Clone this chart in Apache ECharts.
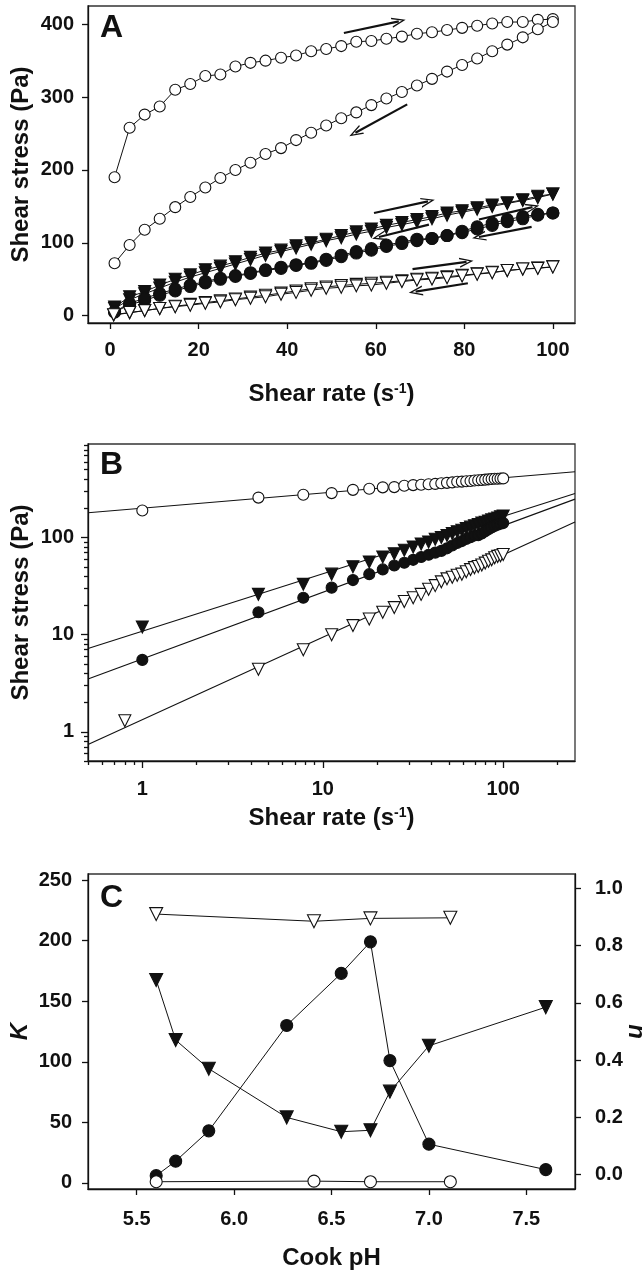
<!DOCTYPE html>
<html>
<head>
<meta charset="utf-8">
<script src="https://cdn.jsdelivr.net/npm/echarts@6/dist/echarts.min.js"></script>
<style>
html,body{margin:0;padding:0;background:#fff;}
#chart{width:644px;height:1273px;}
</style>
</head>
<body>
<div id="chart"></div>
<script>
// ---------- Panel A / B data (shear rate sweep) ----------
const shearRate = [1, 4.4, 7.8, 11.2, 14.7, 18.1, 21.5, 24.9, 28.3, 31.7, 35.1, 38.6, 42.0, 45.4, 48.8, 52.2, 55.6, 59.0, 62.4, 65.9, 69.3, 72.7, 76.1, 79.5, 82.9, 86.3, 89.7, 93.2, 96.6, 100];
const shearRateOT = [0.8, 4.4, 7.8, 11.2, 14.7, 18.1, 21.5, 24.9, 28.3, 31.7, 35.1, 38.6, 42.0, 45.4, 48.8, 52.2, 55.6, 59.0, 62.4, 65.9, 69.3, 72.7, 76.1, 79.5, 82.9, 86.3, 89.7, 93.2, 96.6, 100];

const openCircleUp   = [190, 258, 276, 287, 310, 318, 329, 331, 342, 347, 350, 354, 357, 363, 366, 370, 376, 377, 380, 383, 387, 389, 392, 395, 398, 401, 403, 403, 406, 407];
const openCircleDown = [72, 97, 118, 133, 149, 163, 176, 189, 200, 210, 222, 230, 241, 251, 261, 271, 279, 289, 298, 307, 316, 325, 335, 344, 353, 363, 372, 382, 393, 403];
const filledTriUp    = [12, 26, 33, 42, 50, 56, 63, 68, 74, 80, 86, 90, 96, 100, 105, 110, 115, 119, 124, 128, 132, 136, 141, 144, 148, 152, 155, 159, 164, 167];
const filledTriDown  = [10, 22, 30, 38, 46, 53, 59, 65, 71, 77, 83, 88, 93, 98, 103, 107, 112, 116, 121, 125, 129, 133, 138, 142, 146, 150, 154, 158, 162, 167];
const filledCircUp   = [5.5, 17, 24, 30.5, 36.5, 42, 47, 51.5, 55, 59, 63, 66.5, 70, 73, 77.5, 83, 88, 92, 97, 101, 105, 106, 110, 116, 122, 127, 132, 136, 139, 141];
const filledCircDown = [5, 15, 21, 28, 34, 40, 45, 50, 54, 58, 62, 65, 69, 72, 76, 81, 86, 90, 95, 99, 103, 106, 110, 114, 119, 124, 129, 133, 138, 141];
const openTriUp      = [1.3, 4.4, 7, 10, 12.4, 14.5, 17, 19, 22, 24, 26, 29.4, 32, 35, 37.6, 39, 41, 42, 44.5, 46.8, 49, 50.4, 52.2, 54.6, 57, 59, 62, 64, 65, 67];
const openTriDown    = [1, 4, 7, 10, 13, 15.5, 18, 20.5, 23, 25.5, 28, 31, 34, 37, 39.5, 41.5, 43, 44.5, 46, 48, 50, 51.5, 53.5, 55.5, 57.5, 59.5, 62, 64, 65.5, 67];

// Panel B power-law fit lines (end points)
const fitRate        = [0.5, 250];
const fitOpenCircle  = [180, 477];
const fitFilledTri   = [7.2, 285];
const fitFilledCirc  = [3.5, 249];
const fitOpenTri     = [0.74, 145];

// Panel A direction arrows [start, end] in data units
const arrowsA = [
  [[52.8, 388], [65.2, 404]],
  [[67.1, 290], [55.4, 251]],
  [[59.6, 141], [71.8, 157]],
  [[72.0, 125], [60.7, 108]],
  [[83.3, 132], [95.4, 149]],
  [[95.2, 122], [83.3, 108]],
  [[68.3, 64], [80.5, 74]],
  [[80.8, 44.5], [69.0, 33]]
];

// ---------- Panel C data ----------
const phFilled    = [5.6, 5.7, 5.87, 6.27, 6.55, 6.7, 6.8, 7.0, 7.6];
const kFilledCirc = [6, 18, 43, 130, 173, 199, 101, 32, 11];
const nFilledTri  = [0.68, 0.47, 0.37, 0.2, 0.15, 0.155, 0.29, 0.45, 0.585];
const phOpen      = [5.6, 6.41, 6.7, 7.11];
const nOpenTri    = [0.91, 0.885, 0.895, 0.897];
const kOpenCirc   = [1, 1.5, 1, 1];

// Tick labels
const ticksAx = [0, 20, 40, 60, 80, 100];
const ticksAy = [0, 100, 200, 300, 400];
const ticksBmajor = [1, 10, 100];
const ticksBminorX = [0.5, 0.6, 0.7, 0.8, 0.9, 2, 3, 4, 5, 6, 7, 8, 9, 20, 30, 40, 50, 60, 70, 80, 90, 200];
const ticksBminorY = [0.5, 0.6, 0.7, 0.8, 0.9, 2, 3, 4, 5, 6, 7, 8, 9, 20, 30, 40, 50, 60, 70, 80, 90, 200, 300, 400, 500, 600, 700, 800, 900];
const ticksCx = [5.5, 6.0, 6.5, 7.0, 7.5];
const ticksCk = [0, 50, 100, 150, 200, 250];
const ticksCn = [0, 0.2, 0.4, 0.6, 0.8, 1.0];

// ---------- helpers ----------
const FONT = "'Liberation Sans', Arial, Helvetica, sans-serif";
const INK = '#111';
const pairs = (xs, ys) => xs.map((x, i) => [x, ys[i]]);

function axisBase(extra) {
  const base = {
    axisLine: { show: true, onZero: false, lineStyle: { color: INK, width: 1.3 } },
    axisTick: { show: true, inside: false, length: 6, lineStyle: { color: INK, width: 1.3 } },
    axisLabel: { color: INK, fontSize: 20, fontWeight: 'bold', fontFamily: FONT, margin: 14 },
    splitLine: { show: false },
    nameTextStyle: { color: INK, fontSize: 24, fontWeight: 'bold', fontFamily: FONT },
    nameLocation: 'middle',
    nameMoveOverlap: false
  };
  const out = Object.assign({}, base, extra);
  ['axisLine', 'axisTick', 'axisLabel', 'nameTextStyle'].forEach(k => {
    if (extra[k]) out[k] = Object.assign({}, base[k], extra[k]);
  });
  return out;
}

const rateName = 'Shear rate (s{sup|-1})';
const rateRich = { sup: { fontSize: 14, fontWeight: 'bold', fontFamily: FONT, color: INK, verticalAlign: 'top', lineHeight: 15 } };

function lineSeries(name, xs, ys, symbol, filled, size, xi, yi, extra) {
  return Object.assign({
    name, type: 'line', xAxisIndex: xi, yAxisIndex: yi,
    data: pairs(xs, ys),
    symbol: symbol === 'tri' ? 'triangle' : 'circle',
    symbolRotate: symbol === 'tri' ? 180 : 0,
    symbolSize: size,
    showSymbol: true,
    lineStyle: { color: INK, width: 1 },
    itemStyle: { color: filled ? INK : '#fff', borderColor: INK, borderWidth: 1.1, opacity: 1 },
    emphasis: { disabled: true },
    animation: false
  }, extra || {});
}

function scatterSeries(name, xs, ys, symbol, filled, size, xi, yi) {
  return {
    name, type: 'scatter', xAxisIndex: xi, yAxisIndex: yi,
    data: pairs(xs, ys),
    symbol: symbol === 'tri' ? 'triangle' : 'circle',
    symbolRotate: symbol === 'tri' ? 180 : 0,
    symbolSize: size,
    itemStyle: { color: filled ? INK : '#fff', borderColor: INK, borderWidth: 1.1, opacity: 1 },
    emphasis: { disabled: true },
    z: 3,
    animation: false
  };
}

function fitSeries(name, ys) {
  return {
    name, type: 'line', xAxisIndex: 1, yAxisIndex: 1,
    data: pairs(fitRate, ys), symbol: 'none',
    lineStyle: { color: INK, width: 1.1 }, z: 2, animation: false, emphasis: { disabled: true }
  };
}

const chevron = 'path://M5,0 L10,13 L8.6,13 L5,3.4 L1.4,13 L0,13 Z';

const gridStyle = { show: true, borderColor: '#333', borderWidth: 1.3, backgroundColor: 'transparent', containLabel: false, outerBoundsMode: 'none' };

const option = {
  backgroundColor: '#fff',
  animation: false,
  textStyle: { fontFamily: FONT },
  grid: [
    Object.assign({ left: 88, top: 6, width: 487, height: 317 }, gridStyle),
    Object.assign({ left: 88, top: 444, width: 487, height: 317 }, gridStyle),
    Object.assign({ left: 88, top: 874, width: 487, height: 315 }, gridStyle)
  ],
  xAxis: [
    axisBase({ gridIndex: 0, type: 'value', min: -5, max: 105, position: 'bottom',
      axisTick: { customValues: ticksAx }, axisLabel: { customValues: ticksAx, margin: 17 },
      name: rateName, nameGap: 59, nameTextStyle: { rich: rateRich } }),
    axisBase({ gridIndex: 1, type: 'log', logBase: 10, min: 0.5, max: 250, position: 'bottom',
      axisTick: { customValues: ticksBmajor, length: 7 }, axisLabel: { customValues: ticksBmajor, margin: 18 },
      name: rateName, nameGap: 45, nameTextStyle: { rich: rateRich } }),
    axisBase({ gridIndex: 1, type: 'log', logBase: 10, min: 0.5, max: 250, position: 'bottom',
      axisLine: { show: false }, axisLabel: { show: false },
      axisTick: { customValues: ticksBminorX, length: 4 } }),
    axisBase({ gridIndex: 2, type: 'value', min: 5.25, max: 7.75, position: 'bottom',
      axisTick: { customValues: ticksCx }, axisLabel: { customValues: ticksCx, margin: 20, formatter: v => v.toFixed(1) },
      name: 'Cook pH', nameGap: 57 })
  ],
  yAxis: [
    axisBase({ gridIndex: 0, type: 'value', min: -10, max: 425, position: 'left',
      axisTick: { customValues: ticksAy }, axisLabel: { customValues: ticksAy, margin: 14 },
      name: 'Shear stress (Pa)', nameGap: 55 }),
    axisBase({ gridIndex: 1, type: 'log', logBase: 10, min: 0.5, max: 920, position: 'left',
      axisTick: { customValues: ticksBmajor, length: 7 }, axisLabel: { customValues: ticksBmajor, margin: 14 },
      name: 'Shear stress (Pa)', nameGap: 55 }),
    axisBase({ gridIndex: 1, type: 'log', logBase: 10, min: 0.5, max: 920, position: 'left',
      axisLine: { show: false }, axisLabel: { show: false },
      axisTick: { customValues: ticksBminorY, length: 4 } }),
    axisBase({ gridIndex: 2, type: 'value', min: -5, max: 255, position: 'left',
      axisTick: { customValues: ticksCk }, axisLabel: { customValues: ticksCk, margin: 16 },
      name: 'K', nameGap: 56, nameTextStyle: { fontStyle: 'italic' } }),
    axisBase({ gridIndex: 2, type: 'value', min: -0.05, max: 1.05, position: 'right',
      axisTick: { customValues: ticksCn }, axisLabel: { customValues: ticksCn, margin: 20, formatter: v => v.toFixed(1) },
      name: 'n', nameGap: 49, nameRotate: -90, nameTextStyle: { fontStyle: 'italic' } })
  ],
  graphic: [
    { type: 'text', left: 100, top: 12, style: { text: 'A', font: 'bold 32px ' + FONT, fill: INK } },
    { type: 'text', left: 100, top: 449, style: { text: 'B', font: 'bold 32px ' + FONT, fill: INK } },
    { type: 'text', left: 100, top: 882, style: { text: 'C', font: 'bold 32px ' + FONT, fill: INK } }
  ],
  series: [
    // Panel A
    lineSeries('Open circles up', shearRate, openCircleUp, 'circle', false, 11, 0, 0, {
      markLine: {
        silent: true, animation: false,
        symbol: ['none', chevron], symbolSize: [10, 14],
        label: { show: false },
        lineStyle: { color: INK, width: 2.2, type: 'solid' },
        emphasis: { disabled: true },
        data: arrowsA.map(a => [{ coord: a[0] }, { coord: a[1] }])
      }
    }),
    lineSeries('Open circles down', shearRate, openCircleDown, 'circle', false, 11, 0, 0),
    lineSeries('Filled triangles down', shearRate, filledTriDown, 'tri', true, 12, 0, 0),
    lineSeries('Filled triangles up', shearRate, filledTriUp, 'tri', true, 12, 0, 0),
    lineSeries('Filled circles down', shearRate, filledCircDown, 'circle', true, 12, 0, 0),
    lineSeries('Filled circles up', shearRate, filledCircUp, 'circle', true, 12, 0, 0),
    lineSeries('Open triangles down', shearRateOT, openTriDown, 'tri', false, 12, 0, 0),
    lineSeries('Open triangles up', shearRateOT, openTriUp, 'tri', false, 12, 0, 0),
    // Panel B
    fitSeries('Fit open circles', fitOpenCircle),
    fitSeries('Fit filled triangles', fitFilledTri),
    fitSeries('Fit filled circles', fitFilledCirc),
    fitSeries('Fit open triangles', fitOpenTri),
    scatterSeries('B open circles', shearRate, openCircleUp, 'circle', false, 11, 1, 1),
    scatterSeries('B filled triangles', shearRate, filledTriUp, 'tri', true, 12, 1, 1),
    scatterSeries('B filled circles', shearRate, filledCircUp, 'circle', true, 11, 1, 1),
    scatterSeries('B open triangles', shearRateOT, openTriUp, 'tri', false, 12, 1, 1),
    // Panel C
    lineSeries('n open triangles', phOpen, nOpenTri, 'tri', false, 13, 3, 4),
    lineSeries('K filled circles', phFilled, kFilledCirc, 'circle', true, 12, 3, 3),
    lineSeries('n filled triangles', phFilled, nFilledTri, 'tri', true, 13, 3, 4),
    lineSeries('K open circles', phOpen, kOpenCirc, 'circle', false, 12, 3, 3)
  ]
};

const chart = echarts.init(document.getElementById('chart'), null, { renderer: 'canvas' });
chart.setOption(option);
</script>
</body>
</html>
